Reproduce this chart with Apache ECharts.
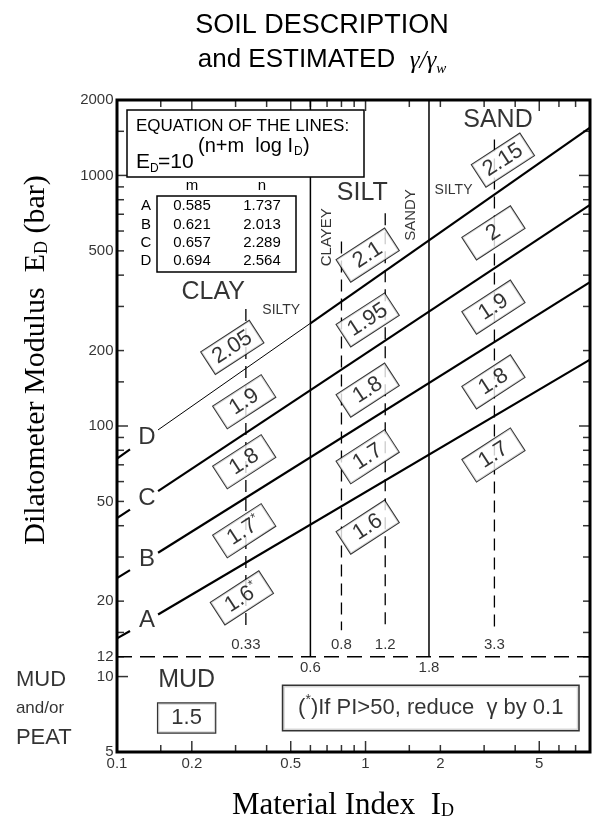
<!DOCTYPE html>
<html><head><meta charset="utf-8">
<script src="https://cdn.jsdelivr.net/npm/echarts@6/dist/echarts.min.js"></script>
<style>html,body{margin:0;padding:0;background:#fff}#c{width:592px;height:825px}</style>
</head><body><div id="c"></div>
<script>
// ---------- DATA ----------
const xTickVals = [0.15,0.2,0.3,0.4,0.5,0.6,0.7,0.8,0.9,1,1.5,2,3,4,5,6,7];
const xMajorTicks = [0.2,0.5,1,5];
const yTickVals = [1500,1000,900,800,700,600,500,400,300,200,150,100,90,80,70,60,50,40,30,20,15,12,10];
const yMajorTicks = [1000,100,10];
const xTickLabels = [0.1,0.2,0.5,1,2,5];
const yTickLabels = [2000,1000,500,200,100,50,20,12,10,5];

const lineIds = ['A','B','C','D'];
const lineM = [0.585,0.621,0.657,0.694];
const lineN = [1.737,2.013,2.289,2.564];

// line segments (ID, ED)
const lineStubA = [[0.1,14.2],[0.1128,15.2]];
const lineMainA = [[0.1463,17.7],[8,184]];
const lineStubB = [[0.1,24.7],[0.1128,26.6]];
const lineMainB = [[0.1463,31.2],[8,375]];
const lineStubC = [[0.1,42.9],[0.1128,46.4]];
const lineMainC = [[0.1463,55.0],[8,763]];
const lineStubD = [[0.1,74.1],[0.1128,80.6]];
const lineThinD = [[0.1463,96.5],[0.6,257]];
const lineMainD = [[0.6,257],[8,1552]];
const lineLetters = [[0.132,16.7,'A'],[0.132,29.3,'B'],[0.132,51.5,'C'],[0.132,89.9,'D']];

// soil boundaries
const boundaryX = [0.6,1.8];
const boundaryTop = 2000, boundaryBottom = 12;
const subX = [0.33,0.8,1.2,3.3];
const subTop = [293,545,706,1390];
const subBottom = 15.3;
const mudLimit = 12;
const plotXMin = 0.1, plotXMax = 8, plotYMin = 5, plotYMax = 2000;
const mudLineX = [0.0395,0.0855];
const mudDashX = [0.0372,0.0381];
const mudLineY = [12,5];

// estimated gamma/gamma_w boxes
const gammaX = [0.291,0.325,0.325,0.325,0.318, 1.02,1.02,1.02,1.02,1.02, 3.57,3.27,3.27,3.27,3.27];
const gammaY = [206,125,72,38.2,20.6, 481,265,139,75.4,39.5, 1151,590,298,150,76.6];
const gammaText = ['2.05','1.9','1.8','1.7*','1.6*', '2.1','1.95','1.8','1.7','1.6', '2.15','2','1.9','1.8','1.7'];

const regionLabels = [[3.41,1663,'SAND'],[0.97,850,'SILT'],[0.244,342,'CLAY']];
const siltyLabels = [[0.458,290,'SILTY'],[2.26,874,'SILTY']];
const rotLabels = [[0.696,567,'CLAYEY'],[1.52,695,'SANDY']];
const subLabels = [[0.33,13.36,'0.33'],[0.8,13.36,'0.8'],[1.2,13.36,'1.2'],[3.3,13.36,'3.3']];
const boundLabels = [[0.6,10.8,'0.6'],[1.8,10.8,'1.8']];
const mudInside = [[0.1906,9.69,'MUD']];
const mudBox = [[0.1906,6.83,'1.5']];
const footnote = [[1.83,7.49,'(*)If PI>50, reduce  γ by 0.1']];
const outsideLabels = [[0.0392,9.69,'MUD',21],[0.0392,7.49,'and/or',17],[0.0392,5.68,'PEAT',21]];

// ---------- CHART ----------
const F = '"Liberation Sans", Arial, sans-serif';
const S = '"Liberation Serif", "Times New Roman", serif';
const chart = echarts.init(document.getElementById('c'), null, {renderer:'canvas'});

function seg(data, width, dash, z) {
  return {type:'line', data, symbol:'none', showSymbol:false, clip:false, silent:true, animation:false, z: z||3,
    lineStyle:{color:'#000', width, type: dash||'solid', cap:'butt'}};
}
function txt(data, label, z) {
  return {type:'scatter', data, symbol:'circle', symbolSize:1, clip:false, silent:true, animation:false, z: z||10,
    itemStyle:{color:'rgba(0,0,0,0)'},
    label:Object.assign({show:true, position:'inside', color:'#000', fontFamily:F, formatter: p => p.data[2]}, label)};
}
function ticks(data, size, offset) {
  return {type:'scatter', data, symbol:'rect', symbolSize:size, symbolOffset:offset, clip:false, silent:true,
    animation:false, z:4, itemStyle:{color:'#000'}};
}

const series = [];
const minorX = xTickVals.filter(v => !xMajorTicks.includes(v));
const majorX = xTickVals.filter(v => xMajorTicks.includes(v));
const minorY = yTickVals.filter(v => !yMajorTicks.includes(v));
const majorY = yTickVals.filter(v => yMajorTicks.includes(v));
series.push(ticks(minorX.map(v=>[v,plotYMin]), [1.5,7], [0,-3.5]));
series.push(ticks(majorX.map(v=>[v,plotYMin]), [1.5,11], [0,-5.5]));
series.push(ticks(minorX.map(v=>[v,plotYMax]), [1.5,7], [0,3.5]));
series.push(ticks(majorX.map(v=>[v,plotYMax]), [1.5,11], [0,5.5]));
series.push(ticks(minorY.map(v=>[plotXMin,v]), [7,1.5], [3.5,0]));
series.push(ticks(majorY.map(v=>[plotXMin,v]), [11,1.5], [5.5,0]));
series.push(ticks(minorY.map(v=>[plotXMax,v]), [7,1.5], [-3.5,0]));
series.push(ticks(majorY.map(v=>[plotXMax,v]), [11,1.5], [-5.5,0]));

// tick labels
series.push(txt(xTickLabels.map(v=>[v,plotYMin,String(v)]), {position:'bottom', distance:4, fontSize:15}));
series.push(txt(yTickLabels.map(v=>[plotXMin,v,String(v)]), {position:'left', distance:3, fontSize:15}));

// correlation lines
[lineStubA,lineMainA,lineStubB,lineMainB,lineStubC,lineMainC,lineStubD,lineMainD].forEach(d => series.push(seg(d, 2.2)));
series.push(seg(lineThinD, 1));
series.push(txt(lineLetters, {fontSize:24}));

// boundaries
boundaryX.forEach(x => series.push(seg([[x,boundaryTop],[x,boundaryBottom]], 1.5)));
subX.forEach((x,i) => series.push(seg([[x,subTop[i]],[x,subBottom]], 1.3, [12,7])));
series.push(seg([[plotXMin,mudLimit],[plotXMax,mudLimit]], 1.5, [15,8]));
mudLineY.forEach(y => {
  series.push(seg([[mudLineX[0],y],[mudLineX[1],y]], 2.5));
  series.push(seg([[mudDashX[0],y],[mudDashX[1],y]], 1.5));
});

// gamma boxes
series.push(txt(gammaText.map((t,i)=>[gammaX[i],gammaY[i],t]), {
  rotate:33, backgroundColor:'#fff', borderColor:'#000', borderWidth:1, padding:[1,3,1,3],
  width:51, height:24, align:'center', verticalAlign:'middle',
  formatter: p => { const t = p.data[2]; return t.endsWith('*') ? '{v|'+t.slice(0,-1)+'}{s|*}' : '{v|'+t+'}'; },
  rich:{ v:{fontSize:22, fontFamily:F, lineHeight:24, color:'#000'}, s:{fontSize:13, fontFamily:F, lineHeight:12, verticalAlign:'top', color:'#000'} }
}, 12));

// region texts
series.push(txt(regionLabels, {fontSize:25}));
series.push(txt(siltyLabels, {fontSize:14}));
series.push(txt(rotLabels, {fontSize:15, rotate:90}));
series.push(txt(subLabels, {fontSize:15}));
series.push(txt(boundLabels, {fontSize:15}));
series.push(txt(mudInside, {fontSize:25}));
series.push(txt(mudBox, {fontSize:22, backgroundColor:'#fff', borderColor:'#000', borderWidth:1.2,
  width:51, height:25, padding:[2,3,2,3], align:'center', verticalAlign:'middle'}, 12));
series.push(txt(footnote, {
  backgroundColor:'#fff', borderColor:'#000', borderWidth:1.5, width:279, height:30, padding:[7,8,7,8],
  align:'center', verticalAlign:'middle',
  formatter: () => '{t|(}{s|*}{t|)If PI>50, reduce  γ by 0.1}',
  rich:{ t:{fontSize:22, fontFamily:F, lineHeight:30, color:'#000'}, s:{fontSize:14, fontFamily:F, lineHeight:14, verticalAlign:'top', color:'#000'} }
}, 12));
series.push(txt(outsideLabels.map(d=>[d[0],d[1],d[2]]), {align:'left', fontSize:21,
  formatter: p => '{a' + (outsideLabels[p.dataIndex][3]) + '|' + p.data[2] + '}',
  rich:{ a21:{fontSize:22, fontFamily:F, color:'#000'}, a17:{fontSize:17, fontFamily:F, color:'#000'} }
}));

// ---------- GRAPHIC (titles, equation legend) ----------
function gtext(x, y, text, opts, rot) {
  const st = Object.assign({text, x:0, y:0, fill:'#000', fontFamily:F, align:'center', verticalAlign:'middle',
    textAlign:'center', textVerticalAlign:'middle'}, opts||{});
  return {type:'text', x, y, rotation: rot||0, z:100, silent:true, style:st};
}
const L = {align:'left', textAlign:'left'};
const graphic = [
  gtext(322, 26, 'SOIL DESCRIPTION', {fontSize:27}),
  gtext(322, 62, '{a|and ESTIMATED  }{g|γ/γ}{w|w}', {rich:{
    a:{fontSize:26, fontFamily:F, lineHeight:30, verticalAlign:'top', color:'#000'},
    g:{fontSize:25, fontFamily:S, fontStyle:'italic', lineHeight:30, verticalAlign:'top', padding:[2,0,0,0], color:'#000'},
    w:{fontSize:15, fontFamily:S, fontStyle:'italic', lineHeight:13, verticalAlign:'bottom', color:'#000'}}}),
  gtext(38, 360, '{a|Dilatometer Modulus  E}{d|D}{a| (bar)}', {rich:{
    a:{fontSize:30, fontFamily:S, lineHeight:34, padding:[0,0,8,0], verticalAlign:'top', color:'#000'},
    d:{fontSize:18, fontFamily:S, lineHeight:17, padding:[0,0,4,0], verticalAlign:'bottom', color:'#000'}}}, Math.PI/2),
  gtext(343, 807, '{a|Material Index  I}{d|D}', {rich:{
    a:{fontSize:31, fontFamily:S, lineHeight:34, padding:[0,0,8,0], verticalAlign:'top', color:'#000'},
    d:{fontSize:18, fontFamily:S, lineHeight:17, padding:[0,0,4,0], verticalAlign:'bottom', color:'#000'}}}),
  {type:'rect', z:90, silent:true, shape:{x:127,y:110,width:237,height:67}, style:{fill:'#fff', stroke:'#000', lineWidth:1.5}},
  gtext(136, 126, 'EQUATION OF THE LINES:', {fontSize:17, align:'left', textAlign:'left'}),
  // equation pieces: E_D = 10^(n+m log I_D)
  gtext(136, 162, 'E', Object.assign({fontSize:21}, L)),
  gtext(150, 169, 'D', Object.assign({fontSize:12}, L)),
  gtext(158, 162, '=10', Object.assign({fontSize:21}, L)),
  gtext(198, 146, '(n+m  log I', Object.assign({fontSize:20}, L)),
  gtext(294, 152, 'D', Object.assign({fontSize:12}, L)),
  gtext(303, 146, ')', Object.assign({fontSize:20}, L)),
  gtext(192, 186, 'm', {fontSize:15}),
  gtext(262, 186, 'n', {fontSize:15}),
  {type:'rect', z:90, silent:true, shape:{x:157,y:196,width:139,height:76}, style:{fill:'#fff', stroke:'#000', lineWidth:1.5}}
];
const rowY = [206,224.5,243,261];
lineIds.forEach((id,i) => {
  graphic.push(gtext(146, rowY[i], id, {fontSize:15}));
  graphic.push(gtext(192, rowY[i], lineM[i].toFixed(3), {fontSize:15}));
  graphic.push(gtext(262, rowY[i], lineN[i].toFixed(3), {fontSize:15}));
});

chart.setOption({
  animation:false,
  backgroundColor:'#fff',
  grid:{left:117, right:2, top:100, bottom:73, show:true, borderColor:'#000', borderWidth:3, backgroundColor:'transparent'},
  xAxis:{type:'log', logBase:10, min:plotXMin, max:plotXMax, axisLine:{show:false}, axisTick:{show:false}, axisLabel:{show:false}, splitLine:{show:false}},
  yAxis:{type:'log', logBase:10, min:plotYMin, max:plotYMax, axisLine:{show:false}, axisTick:{show:false}, axisLabel:{show:false}, splitLine:{show:false}},
  series,
  graphic
});
</script></body></html>
